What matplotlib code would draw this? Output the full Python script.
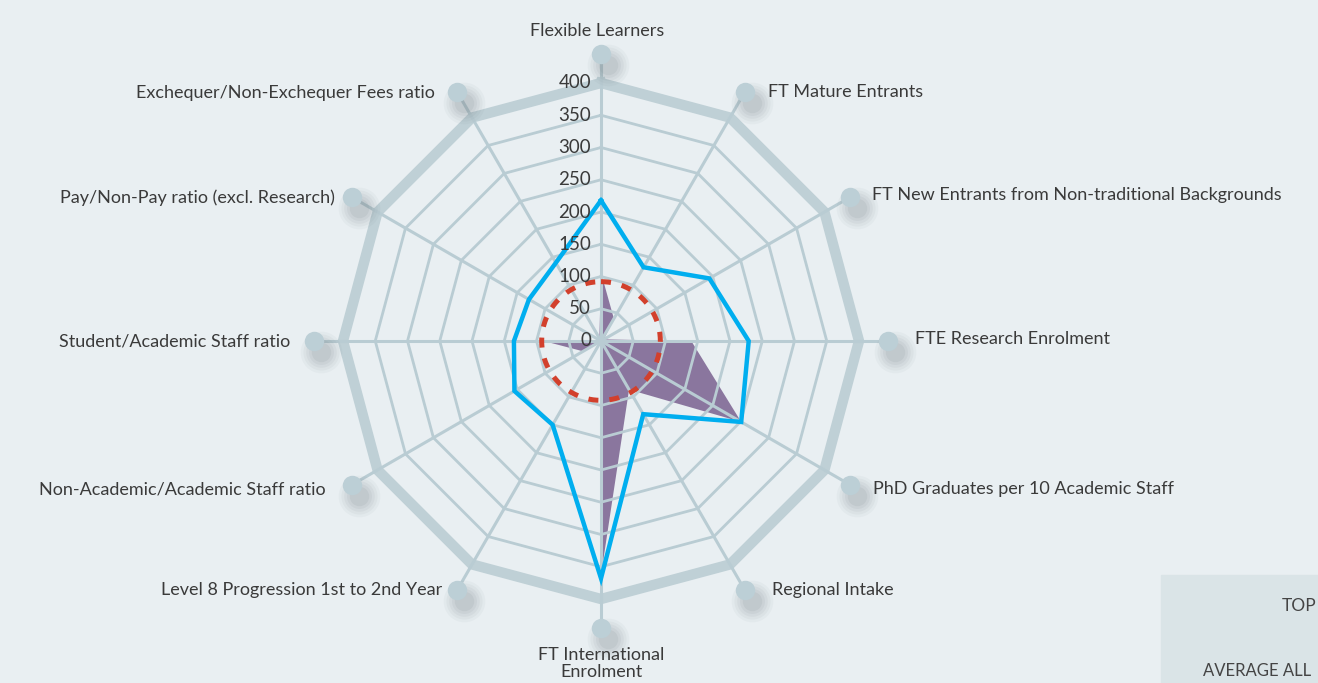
import numpy as np
import matplotlib
matplotlib.use("Agg")
import matplotlib.pyplot as plt
from matplotlib.transforms import offset_copy
from matplotlib.patches import Rectangle

# ---------------- data ----------------
categories = [
    "Flexible Learners",
    "FT Mature Entrants",
    "FT New Entrants from Non-traditional Backgrounds",
    "FTE Research Enrolment",
    "PhD Graduates per 10 Academic Staff",
    "Regional Intake",
    "FT International\nEnrolment",
    "Level 8 Progression 1st to 2nd Year",
    "Non-Academic/Academic Staff ratio",
    "Student/Academic Staff ratio",
    "Pay/Non-Pay ratio (excl. Research)",
    "Exchequer/Non-Exchequer Fees ratio",
]
top_values = [218, 132, 194, 229, 251, 131, 368, 150, 155, 135, 129, 140]      # blue line
institution_values = [106, 40, 5, 140, 251, 87, 363, 0, 32, 89, 0, 5]          # purple area
benchmark_value = 92                                                           # red dashed circle
tick_values = [0, 50, 100, 150, 200, 250, 300, 350, 400]
legend_labels = ["TOP", "AVERAGE ALL"]

# ---------------- style ----------------
BG = "#e9eff2"
GRID = "#b9ccd3"
OUTER = "#bfd0d6"
BLUE = "#00aeef"
PURPLE = "#8a769e"
RED = "#d2402c"
TXT = "#3a3a3a"
plt.rcParams["font.family"] = ["Lato", "DejaVu Sans"]

W, H = 1318, 683
fig = plt.figure(figsize=(W / 100, H / 100), dpi=100, facecolor=BG)

cx, cy = 601, 341
px_per_unit = 258 / 400
rmax = 480
rad_px = rmax * px_per_unit
ax = fig.add_axes([(cx - rad_px) / W, (H - cy - rad_px) / H, 2 * rad_px / W, 2 * rad_px / H],
                  projection="polar")
ax.set_theta_zero_location("N")
ax.set_theta_direction(-1)
ax.set_ylim(0, rmax)
ax.set_facecolor("none")
ax.grid(False)
ax.spines["polar"].set_visible(False)
ax.set_xticks([])
ax.set_yticks([])

n = len(categories)
angles = np.arange(n) * 2 * np.pi / n
closed = np.append(angles, angles[0])

def close(v):
    return np.append(v, v[0])

# purple filled area (below grid)
ax.fill(closed, close(institution_values), color=PURPLE, zorder=1, lw=0)

# polygon rings
for v in tick_values[1:-1]:
    ax.plot(closed, [v] * (n + 1), color=GRID, lw=2, zorder=2, solid_joinstyle="miter")
ax.plot(closed, [tick_values[-1]] * (n + 1), color=OUTER, lw=7.5, zorder=2,
        solid_joinstyle="miter")

# spokes
dot_r = 445
for a in angles:
    ax.plot([a, a], [0, dot_r], color=GRID, lw=2.2, zorder=2)

# end dots with soft shadow
shadow_tr = offset_copy(ax.transData, fig=fig, x=7, y=-11, units="dots")
for s, al in [(30, 0.05), (26, 0.06), (22, 0.07), (18, 0.08), (14, 0.1)]:
    ax.plot(angles, [dot_r] * n, "o", ms=s, color="#6f7c82", alpha=al, mec="none",
            transform=shadow_tr, zorder=2, clip_on=False)
ax.plot(angles, [dot_r] * n, "o", ms=14, color="#bccfd6", mec="none", zorder=3, clip_on=False)

# blue line
ax.plot(closed, close(top_values), color=BLUE, lw=3.2, zorder=4, solid_joinstyle="miter")

# red dashed benchmark circle
th = np.linspace(0, 2 * np.pi, 400)
ax.plot(th, [benchmark_value] * len(th), color=RED, lw=3.6, ls=(0, (2.0, 2.2)), zorder=5)

# radial tick labels
tick_tr = offset_copy(ax.transData, fig=fig, x=-10, y=0, units="dots")
for v in tick_values:
    ax.text(0, v, str(v), transform=tick_tr, ha="right", va="center", fontsize=13.5,
            color=TXT, zorder=6)

# category labels
offsets = [(-4, 23, "center"), (23, 0, "left"), (22, 2, "left"), (27, 2, "left"),
           (23, -4, "left"), (27, 0, "left"), (0, -35, "center"), (-15, 0, "right"),
           (-27, -5, "right"), (-24, 0, "right"), (-18, 0, "right"), (-23, -1, "right")]
for a, lab, (dx, dy, ha) in zip(angles, categories, offsets):
    tr = offset_copy(ax.transData, fig=fig, x=dx, y=dy, units="dots")
    ax.text(a, dot_r, lab, transform=tr, ha=ha, va="center", fontsize=13, color=TXT,
            linespacing=1.08, multialignment="center", clip_on=False)

# partially visible legend box at bottom right
fig.patches.append(Rectangle((1161 / W, 0), (W - 1161) / W, (H - 575) / H,
                             transform=fig.transFigure, color="#dae4e7", zorder=0))
fig.text(1282 / W, 1 - 606 / H, legend_labels[0], ha="left", va="center", fontsize=12.5,
         color="#444444")
fig.text(1203 / W, 1 - 671 / H, legend_labels[1], ha="left", va="center", fontsize=12,
         color="#444444")

fig.savefig("out.png", dpi=100, facecolor=BG)
